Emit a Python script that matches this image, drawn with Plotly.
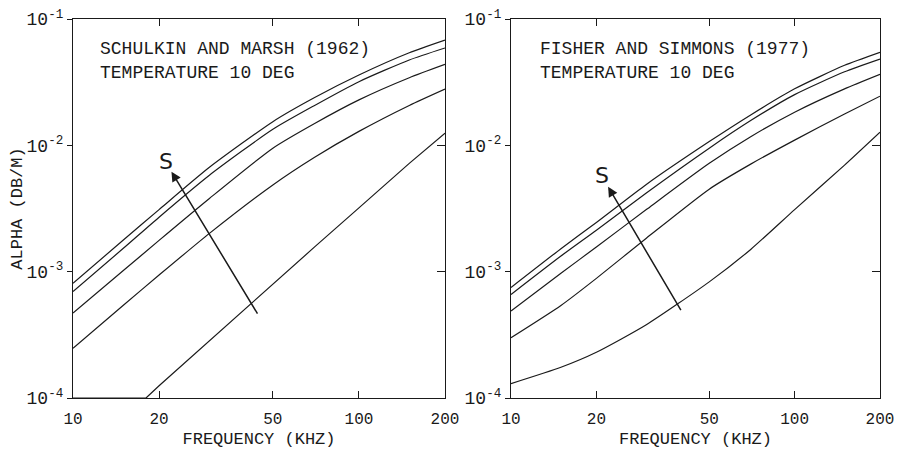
import math
import plotly.graph_objects as go

# ---------------- data ----------------
freq = [10, 15, 20, 30, 50, 70, 100, 150, 200]          # kHz
freq_sm_low = [10, 18, 20, 30, 50, 70, 100, 150, 200]   # lowest Schulkin & Marsh curve

# Schulkin and Marsh (1962), temperature 10 deg  (alpha, dB/m)
sm_s1 = [8.1e-4, 1.78e-3, 3.1e-3, 6.7e-3, 1.54e-2, 2.39e-2, 3.6e-2, 5.4e-2, 6.8e-2]
sm_s2 = [6.97e-4, 1.53e-3, 2.7e-3, 5.8e-3, 1.34e-2, 2.07e-2, 3.19e-2, 4.74e-2, 5.9e-2]
sm_s3 = [4.7e-4, 1.02e-3, 1.77e-3, 3.8e-3, 9.5e-3, 1.49e-2, 2.29e-2, 3.43e-2, 4.37e-2]
sm_s4 = [2.48e-4, 5.43e-4, 9.4e-4, 2.01e-3, 4.86e-3, 8.05e-3, 1.29e-2, 2.07e-2, 2.79e-2]
sm_s5 = [1.0e-4, 1.0e-4, 1.25e-4, 2.85e-4, 8.0e-4, 1.57e-3, 3.2e-3, 7.2e-3, 1.25e-2]

# Fisher and Simmons (1977), temperature 10 deg  (alpha, dB/m)
fs_s1 = [7.5e-4, 1.52e-3, 2.45e-3, 4.9e-3, 1.07e-2, 1.74e-2, 2.8e-2, 4.3e-2, 5.45e-2]
fs_s2 = [6.6e-4, 1.33e-3, 2.13e-3, 4.2e-3, 9.5e-3, 1.57e-2, 2.52e-2, 3.82e-2, 4.82e-2]
fs_s3 = [4.88e-4, 9.7e-4, 1.57e-3, 3.1e-3, 7.2e-3, 1.17e-2, 1.83e-2, 2.8e-2, 3.65e-2]
fs_s4 = [3.0e-4, 5.4e-4, 8.85e-4, 1.84e-3, 4.5e-3, 7.1e-3, 1.1e-2, 1.77e-2, 2.45e-2]
fs_s5 = [1.3e-4, 1.75e-4, 2.3e-4, 3.8e-4, 8.3e-4, 1.5e-3, 3.1e-3, 6.97e-3, 1.27e-2]

# Salinity arrows: [tail, head] in (kHz, dB/m); "S" label position
sm_arrow_f = [44.5, 22.1]
sm_arrow_a = [4.53e-4, 6.18e-3]
sm_label = (21.1, 7.4e-3)
fs_arrow_f = [40.0, 22.0]
fs_arrow_a = [4.82e-4, 4.7e-3]
fs_label = (20.9, 5.8e-3)

x_tickvals = [10, 20, 50, 100, 200]
x_ticktext = ["10", "20", "50", "100", "200"]
y_tickvals = [1e-4, 1e-3, 1e-2, 1e-1]
y_ticktext = ["10<sup>-4</sup>", "10<sup>-3</sup>", "10<sup>-2</sup>", "10<sup>-1</sup>"]

titles = ["SCHULKIN AND MARSH (1962)", "FISHER AND SIMMONS (1977)"]
subtitle = "TEMPERATURE 10 DEG"
x_title = "FREQUENCY (KHZ)"
y_title = "ALPHA (DB/M)"

# ---------------- figure ----------------
OFF = 8                      # default page body margin
W, H = 902 - OFF, 449 - OFF
FONT = "Liberation Mono"
INK = "#1a1a1a"

fig = go.Figure()
smooth = dict(color=INK, width=1.2, shape="spline", smoothing=0.6)
straight = dict(color=INK, width=1.2)

for ys in [sm_s1, sm_s2, sm_s3, sm_s4]:
    fig.add_trace(go.Scatter(x=freq, y=ys, mode="lines", line=smooth, xaxis="x", yaxis="y",
                             showlegend=False, hoverinfo="skip"))
fig.add_trace(go.Scatter(x=freq_sm_low, y=sm_s5, mode="lines", line=straight, xaxis="x", yaxis="y",
                         showlegend=False, hoverinfo="skip"))
for ys in [fs_s1, fs_s2, fs_s3, fs_s4, fs_s5]:
    fig.add_trace(go.Scatter(x=freq, y=ys, mode="lines", line=smooth, xaxis="x2", yaxis="y2",
                             showlegend=False, hoverinfo="skip"))
# empty traces to attach the right-hand tick axes
fig.add_trace(go.Scatter(x=[], y=[], xaxis="x", yaxis="y3", showlegend=False))
fig.add_trace(go.Scatter(x=[], y=[], xaxis="x2", yaxis="y4", showlegend=False))

xr = [1, math.log10(200)]
yr = [-4, -1]

def px_x(p):
    return (p - OFF) / W

def px_y(p):
    return 1 - (p - OFF) / H

ydom = [px_y(398), px_y(19)]
xdom1 = [px_x(73), px_x(445)]
xdom2 = [px_x(511), px_x(880)]

def xaxis(domain, anchor):
    return dict(domain=domain, anchor=anchor, type="log", range=xr,
                tickvals=x_tickvals, ticktext=x_ticktext,
                ticks="inside", ticklen=7, tickwidth=1, tickcolor=INK,
                mirror="ticks", showline=True, linecolor=INK, linewidth=1.2,
                showgrid=False, zeroline=False, automargin=False,
                ticklabelstandoff=6, ticklabeloverflow="allow",
                tickfont=dict(family=FONT, size=16, color=INK),
                title=dict(text=x_title, font=dict(family=FONT, size=17, color=INK), standoff=4))

def yaxis(domain, anchor, with_title):
    d = dict(domain=domain, anchor=anchor, type="log", range=yr,
             tickvals=y_tickvals, ticktext=y_ticktext,
             ticks="outside", ticklen=5, tickwidth=1, tickcolor=INK,
             mirror=True, showline=True, linecolor=INK, linewidth=1.2,
             showgrid=False, zeroline=False, automargin=False,
             ticklabeloverflow="allow",
             tickfont=dict(family=FONT, size=18, color=INK))
    if with_title:
        d["title"] = dict(text=y_title, font=dict(family=FONT, size=17, color=INK), standoff=10)
    return d

def yaxis_right(over, anchor):
    return dict(overlaying=over, anchor=anchor, side="right", type="log", range=yr,
                tickvals=y_tickvals, ticks="inside", ticklen=8, tickwidth=1, tickcolor=INK,
                showticklabels=False, showline=False, showgrid=False, zeroline=False,
                automargin=False)

annotations = []
for i, xd in enumerate([98, 538]):
    annotations.append(dict(xref="paper", yref="paper", x=px_x(xd), y=px_y(49), text=titles[i],
                            showarrow=False, xanchor="left", yanchor="middle",
                            font=dict(family=FONT, size=18, color=INK)))
    annotations.append(dict(xref="paper", yref="paper", x=px_x(xd), y=px_y(72.5), text=subtitle,
                            showarrow=False, xanchor="left", yanchor="middle",
                            font=dict(family=FONT, size=18, color=INK)))

for af, aa, lab, xref, yref in [(sm_arrow_f, sm_arrow_a, sm_label, "x", "y"),
                                (fs_arrow_f, fs_arrow_a, fs_label, "x2", "y2")]:
    annotations.append(dict(xref=xref, yref=yref, axref=xref, ayref=yref,
                            x=math.log10(af[1]), y=math.log10(aa[1]),
                            ax=math.log10(af[0]), ay=math.log10(aa[0]),
                            text="", showarrow=True, arrowhead=2, arrowsize=1.3,
                            arrowwidth=1.5, arrowcolor=INK, standoff=0))
    annotations.append(dict(xref=xref, yref=yref, x=math.log10(lab[0]), y=math.log10(lab[1]),
                            text="S", showarrow=False, xanchor="center", yanchor="middle",
                            font=dict(family="DejaVu Sans", size=22, color=INK)))

fig.update_layout(
    template="none",
    width=W, height=H,
    margin=dict(l=0, r=0, t=0, b=0),
    paper_bgcolor="white", plot_bgcolor="white",
    showlegend=False,
    font=dict(family=FONT, size=16, color=INK),
    xaxis=xaxis(xdom1, "y"),
    yaxis=yaxis(ydom, "x", True),
    xaxis2=xaxis(xdom2, "y2"),
    yaxis2=yaxis(ydom, "x2", False),
    yaxis3=yaxis_right("y", "x"),
    yaxis4=yaxis_right("y2", "x2"),
    annotations=annotations,
)

fig.write_html("out.html")
